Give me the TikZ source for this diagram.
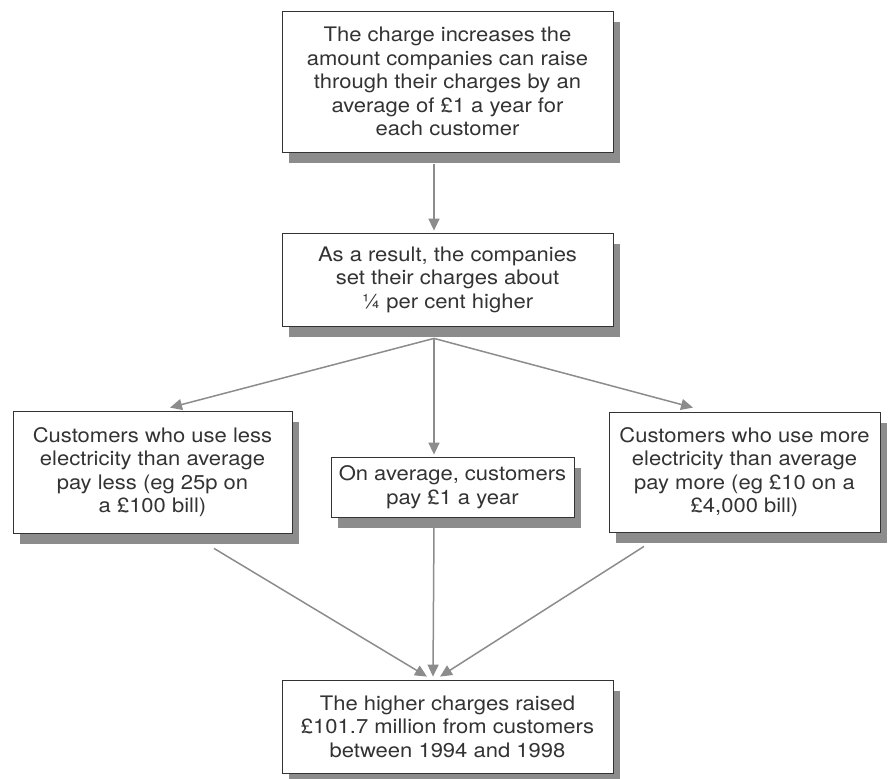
\documentclass[tikz,border=0pt]{standalone}
\usepackage{fontspec}
\setmainfont[FakeStretch=1.1]{TeX Gyre Heros}
\usepackage{tikz}
\usetikzlibrary{arrows.meta,shadows}

\begin{document}
\begin{tikzpicture}[x=1pt,y=-1pt,
	box/.style={draw=black!80, line width=0.8pt, fill=white, rectangle, align=center,
		inner sep=0pt, text=black!80, font=\fontsize{20}{23.5}\selectfont,
		drop shadow={shadow xshift=7pt, shadow yshift=-11pt, fill=black!45, opacity=1}},
	link/.style={draw=black!45, line width=1.5pt, -{Triangle[width=11pt,length=12pt]}}]
			%%%%% START %%%%%
			
			\useasboundingbox (0, 0) rectangle (890, 778);
			
			\node[box, minimum width=331pt, minimum height=141pt] (charge) at (447.5, 81.5)
				{The charge increases the\\amount companies can raise\\through their charges by an\\average of £1 a year for\\each customer};
			
			\node[box, minimum width=331pt, minimum height=93pt] (result) at (447.5, 279.5)
				{As a result, the companies\\set their charges about\\¼ per cent higher};
			
			\node[box, minimum width=279pt, minimum height=122pt] (less) at (152.5, 472)
				{Customers who use less\\electricity than average\\pay less (eg 25p on\\a £100 bill)};
			\node[box, minimum width=243pt, minimum height=60pt] (avg) at (452.5, 487)
				{On average, customers\\pay £1 a year};
			\node[box, minimum width=271pt, minimum height=120pt] (more) at (744.5, 472)
				{Customers who use more\\electricity than average\\pay more (eg £10 on a\\£4,000 bill)};
			
			\node[box, minimum width=331pt, minimum height=93pt] (raised) at (447.5, 726.5)
				{The higher charges raised\\£101.7 million from customers\\between 1994 and 1998};
			
			\coordinate (hub) at ([xshift=-13.5pt, yshift=-12pt]result.south);
			
			\draw[link] ([xshift=-13.5pt, yshift=-12pt]charge.south) -- ([xshift=-13.5pt, yshift=2pt]result.north);
			
			\draw[link] (hub) -- ([xshift=17.5pt, yshift=3pt]less.north);
			\draw[link] (hub) -- ([xshift=-18.5pt, yshift=2pt]avg.north);
			\draw[link] (hub) -- ([xshift=-51.5pt, yshift=4pt]more.north);
			
			\draw[link] ([xshift=61.5pt, yshift=-15pt]less.south) -- ([xshift=-20.5pt, yshift=3pt]raised.north);
			\draw[link] ([xshift=-18.5pt, yshift=-7pt]avg.south) -- ([xshift=-14.5pt, yshift=3pt]raised.north);
			\draw[link] ([xshift=-100.5pt, yshift=-14pt]more.south) -- ([xshift=-7.5pt, yshift=3pt]raised.north);
			
			%%%%% END %%%%%
\end{tikzpicture}
\end{document}
